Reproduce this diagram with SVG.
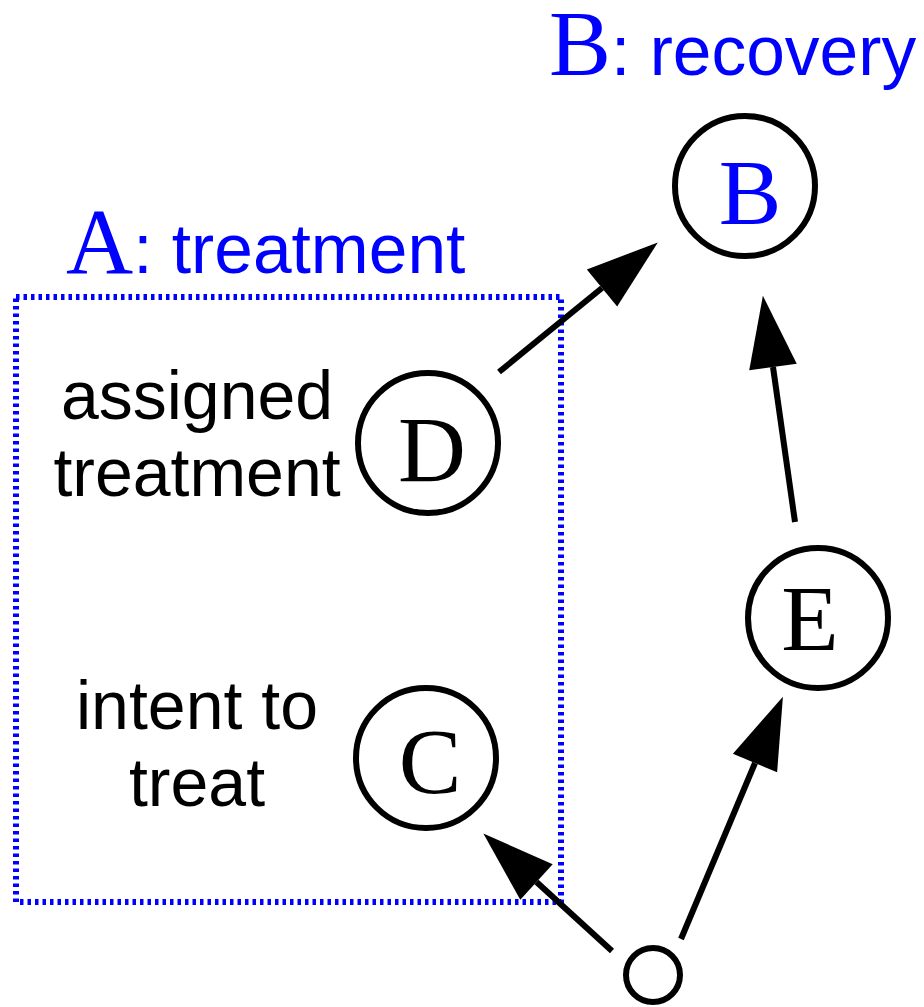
<svg xmlns="http://www.w3.org/2000/svg" width="924" height="1007" viewBox="0 0 924 1007">
<style>
.node{fill:#fff;stroke:#000;stroke-width:6}
.letter{font-family:"Liberation Serif","Times New Roman",serif;font-size:94px;text-anchor:middle}
.label{font-family:"Liberation Sans",Arial,sans-serif;font-size:68px;text-anchor:middle;fill:#000}
.title{font-family:"Liberation Sans",Arial,sans-serif;font-size:69.5px;fill:#0000ff}
.serif{font-family:"Liberation Serif","Times New Roman",serif;font-size:93px}
.edge{stroke:#000;stroke-width:6;fill:none;marker-end:url(#arrow)}
</style>
<defs>
<marker id="arrow" markerUnits="userSpaceOnUse" markerWidth="72" markerHeight="48" refX="0" refY="24" orient="auto" overflow="visible">
<path d="M0,0 L72,24 L0,48 Z" fill="#000"/>
</marker>
</defs>
<rect width="924" height="1007" fill="#fff"/>
<g id="groupA">
<rect x="16" y="297" width="545" height="605" fill="none" stroke="#0000ff" stroke-width="6" stroke-dasharray="3.5 4"/>
<text class="title" x="66" y="273"><tspan class="serif">A</tspan>: treatment</text>
</g>
<g id="titleB">
<text class="title" x="549" y="75"><tspan class="serif">B</tspan>: recovery</text>
</g>
<g id="edges">
<line class="edge" x1="499" y1="372" x2="602" y2="288"/>
<line class="edge" x1="795" y1="522" x2="773" y2="367"/>
<line class="edge" x1="612" y1="951" x2="536.5" y2="882"/>
<line class="edge" x1="681" y1="939" x2="755" y2="763"/>
</g>
<g id="nodeB">
<circle class="node" cx="745" cy="186" r="70"/>
<text class="letter" x="750" y="224" fill="#0000ff">B</text>
</g>
<g id="nodeD">
<circle class="node" cx="428" cy="443" r="70"/>
<text class="letter" x="432" y="481" fill="#000">D</text>
<text class="label" x="197" y="419">assigned</text>
<text class="label" x="197" y="496">treatment</text>
</g>
<g id="nodeE">
<circle class="node" cx="818" cy="618" r="70"/>
<text class="letter" x="810" y="650" fill="#000">E</text>
</g>
<g id="nodeC">
<circle class="node" cx="426" cy="758" r="70"/>
<text class="letter" x="430" y="793" fill="#000">C</text>
<text class="label" x="197" y="729">intent to</text>
<text class="label" x="197" y="806">treat</text>
</g>
<g id="nodeU">
<circle class="node" cx="653" cy="975" r="27"/>
</g>
</svg>
